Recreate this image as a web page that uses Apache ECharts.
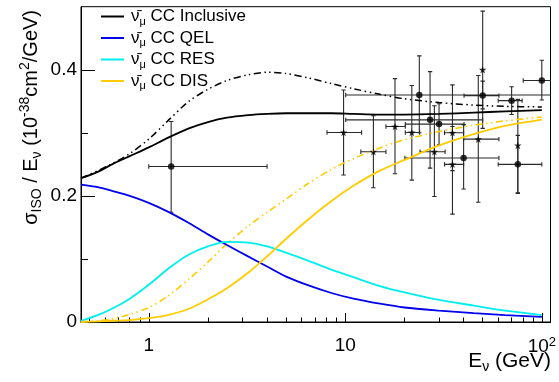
<!DOCTYPE html>
<html><head><meta charset="utf-8">
<script src="https://cdn.jsdelivr.net/npm/echarts@6/dist/echarts.min.js"></script>
<style>html,body{margin:0;padding:0;background:#fff}#c{width:559px;height:382px}</style>
</head><body><div id="c"></div>
<script>
// Energy grid (GeV) shared by all model curves
const energy      = [0.452, 0.55, 0.65, 0.8, 1.0, 1.25, 1.6, 2.0, 2.5, 3.2, 4.0, 5.0, 6.5, 8.5, 11, 15, 20, 30, 45, 65, 100];
const inclusive   = [0.228, 0.238, 0.250, 0.263, 0.277, 0.292, 0.307, 0.317, 0.324, 0.328, 0.330, 0.331, 0.331, 0.331, 0.330, 0.329, 0.329, 0.330, 0.332, 0.334, 0.336];
const inclusiveB  = [0.228, 0.240, 0.251, 0.267, 0.290, 0.319, 0.350, 0.369, 0.383, 0.392, 0.396, 0.394, 0.387, 0.378, 0.370, 0.361, 0.354, 0.348, 0.344, 0.342, 0.341];
const qel         = [0.218, 0.214, 0.208, 0.200, 0.189, 0.175, 0.157, 0.139, 0.122, 0.104, 0.088, 0.072, 0.058, 0.046, 0.037, 0.029, 0.023, 0.018, 0.014, 0.011, 0.008];
const resonant    = [0.002, 0.011, 0.021, 0.037, 0.059, 0.084, 0.107, 0.120, 0.127, 0.126, 0.120, 0.110, 0.097, 0.083, 0.071, 0.057, 0.047, 0.035, 0.026, 0.018, 0.011];
const dis         = [0.000, 0.001, 0.002, 0.003, 0.006, 0.011, 0.021, 0.036, 0.0535, 0.078, 0.104, 0.132, 0.163, 0.192, 0.216, 0.240, 0.257, 0.280, 0.298, 0.311, 0.321];
const disB        = [0.000, 0.002, 0.005, 0.012, 0.023, 0.041, 0.068, 0.095, 0.124, 0.152, 0.174, 0.195, 0.220, 0.242, 0.259, 0.276, 0.289, 0.302, 0.312, 0.319, 0.325];

// Measurements (circles)
const circE   = [1.30, 23.8, 27.0, 30.0, 40.0, 50.0, 70.2, 75.5, 100];
const circV   = [0.2465, 0.360, 0.3206, 0.3138, 0.260, 0.359, 0.351, 0.250, 0.383];
const circElo = [1.0, 10.05, 10.05, 20.2, 20.1, 40.2, 60.0, 60.0, 80.4];
const circEhi = [4.0, 200, 50, 40.2, 60.5, 60.5, 79.4, 100, 125];
const circVlo = [0.174, 0.300, 0.244, 0.281, 0.211, 0.338, 0.329, 0.204, 0.352];
const circVhi = [0.318, 0.422, 0.397, 0.346, 0.313, 0.382, 0.373, 0.296, 0.415];
// Measurements (stars)
const starE   = [9.8, 13.9, 17.9, 21.8, 28.4, 35.1, 35.1, 47.5, 50.0, 75.5];
const starV   = [0.3005, 0.270, 0.310, 0.3005, 0.270, 0.300, 0.250, 0.290, 0.400, 0.280];
const starElo = [8.07, 12.0, 16.1, 20.2, 24.0, 32.0, 32.0, 40.0, 50.0, 75.5];
const starEhi = [12.1, 16.1, 20.2, 23.9, 32.2, 40.0, 40.0, 60.5, 50.0, 75.5];
const starVlo = [0.233, 0.213, 0.235, 0.225, 0.199, 0.240, 0.171, 0.190, 0.307, 0.205];
const starVhi = [0.368, 0.327, 0.386, 0.375, 0.343, 0.376, 0.310, 0.391, 0.493, 0.353];

const xMajorTicks = [1, 10, 100];
const xMinorTicks = [0.5, 0.6, 0.7, 0.8, 0.9, 2, 3, 4, 5, 6, 7, 8, 9, 20, 30, 40, 50, 60, 70, 80, 90];
const yMajorTicks = [0, 0.2, 0.4];
const yMinorTicks = [0.1, 0.3];

const FONT = 'Liberation Sans';
const pair = (xs, ys) => xs.map((x, i) => [x, ys[i]]);
const errData = (e, v, el, eh, vl, vh) => e.map((x, i) => [x, v[i], el[i], eh[i], vl[i], vh[i]]);

function renderErr(params, api) {
  const x = api.value(0), y = api.value(1);
  const pL = api.coord([api.value(2), y]), pR = api.coord([api.value(3), y]);
  const pB = api.coord([x, api.value(4)]), pT = api.coord([x, api.value(5)]);
  const st = {stroke: '#2a2a2a', lineWidth: 1.1};
  const c = 2.2;
  const ch = [];
  if (pR[0] - pL[0] > 1) {
    ch.push({type: 'line', shape: {x1: pL[0], y1: pL[1], x2: pR[0], y2: pR[1]}, style: st});
    ch.push({type: 'line', shape: {x1: pL[0], y1: pL[1] - c, x2: pL[0], y2: pL[1] + c}, style: st});
    ch.push({type: 'line', shape: {x1: pR[0], y1: pR[1] - c, x2: pR[0], y2: pR[1] + c}, style: st});
  }
  ch.push({type: 'line', shape: {x1: pB[0], y1: pB[1], x2: pT[0], y2: pT[1]}, style: st});
  ch.push({type: 'line', shape: {x1: pB[0] - c, y1: pB[1], x2: pB[0] + c, y2: pB[1]}, style: st});
  ch.push({type: 'line', shape: {x1: pT[0] - c, y1: pT[1], x2: pT[0] + c, y2: pT[1]}, style: st});
  return {type: 'group', children: ch};
}

const dashDot = [7, 3.5, 1.5, 3.5, 1.5, 3.5];
const starPath = 'path://M0,-10 L2.35,-3.24 L9.51,-3.09 L3.8,1.24 L5.88,8.09 L0,4 L-5.88,8.09 L-3.8,1.24 L-9.51,-3.09 L-2.35,-3.24 Z';

const legendRich = {
  nu: {fontFamily: FONT, fontSize: 17, color: '#000', lineHeight: 21},
  mu: {fontFamily: FONT, fontSize: 11, color: '#000', lineHeight: 11, verticalAlign: 'bottom'},
  t:  {fontFamily: FONT, fontSize: 17, color: '#000', lineHeight: 21}
};

const xAxisBase = {
  type: 'log', logBase: 10, min: 0.452, max: 110.7, gridIndex: 0, position: 'bottom',
  splitLine: {show: false}, minorTick: {show: false}
};
const yAxisBase = {type: 'value', min: 0, max: 0.5, gridIndex: 0, position: 'left', splitLine: {show: false}};

const option = {
  animation: false,
  backgroundColor: '#fff',
  grid: {left: 81, right: 7.3, top: 6.7, bottom: 60, show: true, borderColor: '#000', borderWidth: 1, containLabel: false},
  xAxis: [
    Object.assign({}, xAxisBase, {
      axisLine: {show: true, lineStyle: {color: '#000', width: 1}},
      axisTick: {show: true, inside: true, length: 9, customValues: xMajorTicks, lineStyle: {color: '#000', width: 1}},
      axisLabel: {show: true, customValues: xMajorTicks, margin: 14, fontFamily: FONT, fontSize: 19, color: '#000',
        formatter: v => (Math.abs(v - 100) < 1e-6 ? '{b|10}{s|2}' : String(Math.round(v))),
        rich: {b: {fontFamily: FONT, fontSize: 19, color: '#000', lineHeight: 22},
               s: {fontFamily: FONT, fontSize: 13, color: '#000', lineHeight: 13, verticalAlign: 'top'}}}
    }),
    Object.assign({}, xAxisBase, {
      axisLine: {show: false},
      axisTick: {show: true, inside: true, length: 4.5, customValues: xMinorTicks, lineStyle: {color: '#000', width: 1}},
      axisLabel: {show: false}
    })
  ],
  yAxis: [
    Object.assign({}, yAxisBase, {
      axisLine: {show: true, lineStyle: {color: '#000', width: 1}},
      axisTick: {show: true, inside: true, length: 14, customValues: yMajorTicks, lineStyle: {color: '#000', width: 1}},
      axisLabel: {show: true, customValues: yMajorTicks, margin: 4, fontFamily: FONT, fontSize: 19, color: '#000',
        formatter: v => (v === 0 ? '0' : v.toFixed(1))}
    }),
    Object.assign({}, yAxisBase, {
      axisLine: {show: false},
      axisTick: {show: true, inside: true, length: 7, customValues: yMinorTicks, lineStyle: {color: '#000', width: 1}},
      axisLabel: {show: false}
    })
  ],
  legend: {
    orient: 'vertical', left: 96, top: 1, itemWidth: 23, itemHeight: 2, itemGap: 0.5,
    icon: 'rect',
    selectedMode: false, data: ['Inclusive', 'QEL', 'RES', 'DIS'],
    formatter: n => '{nu|\u03BD\u0304}{mu|\u03BC}{t| CC ' + n + '}',
    textStyle: {rich: legendRich, lineHeight: 21, padding: [0, 0, 0, 2]}
  },
  graphic: [
    {type: 'text', x: 31, y: 10, rotation: Math.PI / 2,
      style: {text: '{m|\u03C3}{sub|ISO}{m| / E}{sub|\u03BD}{m| (10}{sup|-38}{m|cm}{sup|2}{m|/GeV)}',
        align: 'right', verticalAlign: 'middle', textAlign: 'right', textVerticalAlign: 'middle',
        rich: {m: {fontFamily: FONT, fontSize: 20, lineHeight: 26, fill: '#000', color: '#000'},
               sub: {fontFamily: FONT, fontSize: 14, lineHeight: 14, verticalAlign: 'bottom', fill: '#000', color: '#000'},
               sup: {fontFamily: FONT, fontSize: 14, lineHeight: 14, verticalAlign: 'top', fill: '#000', color: '#000'}}}},
    {type: 'text', x: 551, y: 361,
      style: {text: '{m|E}{sub|\u03BD}{m| (GeV)}', align: 'right', verticalAlign: 'middle', textAlign: 'right', textVerticalAlign: 'middle',
        rich: {m: {fontFamily: FONT, fontSize: 21, lineHeight: 26, fill: '#000', color: '#000'},
               sub: {fontFamily: FONT, fontSize: 14, lineHeight: 14, verticalAlign: 'bottom', fill: '#000', color: '#000'}}}}
  ],
  series: [
    {name: 'inclusive-alt', type: 'line', data: pair(energy, inclusiveB), smooth: 0.3, symbol: 'none', silent: true,
      lineStyle: {color: '#000', width: 1.5, type: dashDot}},
    {name: 'dis-alt', type: 'line', data: pair(energy, disB), smooth: 0.3, symbol: 'none', silent: true,
      lineStyle: {color: '#ffcc00', width: 1.6, type: dashDot}},
    {name: 'Inclusive', type: 'line', data: pair(energy, inclusive), smooth: 0.3, symbol: 'none', color: '#000',
      lineStyle: {color: '#000', width: 1.8}},
    {name: 'QEL', type: 'line', data: pair(energy, qel), smooth: 0.3, symbol: 'none', color: '#0000ee',
      lineStyle: {color: '#0000ee', width: 1.8}},
    {name: 'RES', type: 'line', data: pair(energy, resonant), smooth: 0.3, symbol: 'none', color: '#00eeee',
      lineStyle: {color: '#00eeee', width: 1.8}},
    {name: 'DIS', type: 'line', data: pair(energy, dis), smooth: 0.3, symbol: 'none', color: '#ffcc00',
      lineStyle: {color: '#ffcc00', width: 1.8}},
    {name: 'circ-err', type: 'custom', clip: true, renderItem: renderErr, silent: true,
      data: errData(circE, circV, circElo, circEhi, circVlo, circVhi)},
    {name: 'star-err', type: 'custom', clip: true, renderItem: renderErr, silent: true,
      data: errData(starE, starV, starElo, starEhi, starVlo, starVhi)},
    {name: 'circles', type: 'scatter', data: pair(circE, circV), symbol: 'circle', symbolSize: 6.5,
      itemStyle: {color: '#000'}, silent: true},
    {name: 'stars', type: 'scatter', data: pair(starE, starV), symbol: starPath, symbolSize: 7.5,
      itemStyle: {color: '#000'}, silent: true}
  ]
};

const chart = echarts.init(document.getElementById('c'), null, {renderer: 'canvas'});
chart.setOption(option);
</script></body></html>
